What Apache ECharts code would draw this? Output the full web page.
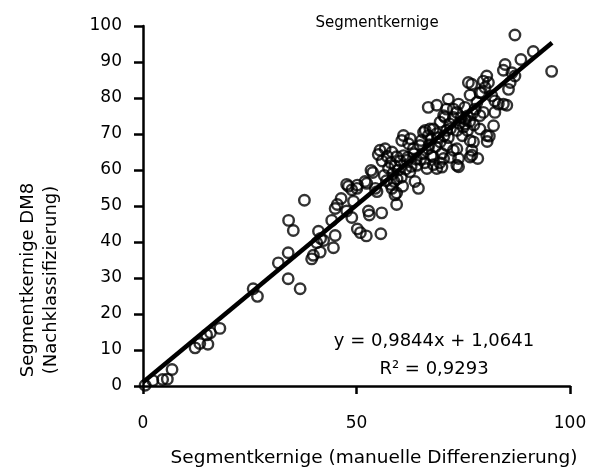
<!DOCTYPE html>
<html>
<head>
<meta charset="utf-8">
<script src="https://cdn.jsdelivr.net/npm/echarts@6/dist/echarts.min.js"></script>
<style>html,body{margin:0;padding:0;background:#fff;}#c{width:606px;height:473px;}</style>
</head>
<body>
<div id="c"></div>
<script>
// Scatter data: Segmentkernige manual (x) vs DM8 reclassification (y)
var points = [
[0.5,0.2],[2.3,1.5],[4.6,1.8],[5.7,1.9],[6.8,4.6],[12.2,10.6],[13.3,11.8],[15.2,11.6],[14.9,14.2],[15.8,14.8],[18.0,16.0],
[25.8,27.0],[26.8,24.9],[31.7,34.2],[34.0,37.0],[34.0,29.8],[36.8,27.0],[34.1,46.0],[35.2,43.2],[37.8,51.6],
[39.5,35.3],[39.9,36.3],[40.7,39.8],[41.1,43.0],[41.6,41.0],[42.3,40.4],[41.5,37.2],[44.6,38.4],[45.0,41.8],[44.2,46.0],
[45.0,49.3],[45.5,50.4],[46.4,52.1],[47.7,48.6],[48.9,46.8],[48.1,55.5],[47.7,56.0],[48.9,54.5],[50.1,54.9],[50.2,55.8],
[50.2,43.6],[50.9,42.6],[52.3,41.7],[52.8,48.6],[53.0,47.5],[55.9,48.1],[55.7,42.3],[52.0,56.8],[52.4,56.3],[53.4,59.9],
[53.8,59.3],[54.4,54.9],[54.8,54.0],[55.5,65.5],[55.1,64.3],[56.7,65.9],[58.3,65.0],[59.4,63.7],[58.8,56.8],[59.4,53.6],
[59.0,53.1],[58.3,54.9],[59.4,50.4],[60.6,68.2],[62.2,67.3],[62.6,68.7],[61.0,69.6],[63.3,65.9],[64.9,66.8],[61.8,62.7],
[64.1,61.3],[64.5,54.9],[63.7,56.8],[66.5,60.4],[68.8,60.4],[66.8,65.9],[68.0,63.6],[70.0,64.6],[70.4,63.2],[69.6,67.8],
[71.1,66.8],[72.7,65.5],[73.5,65.9],[73.9,63.2],[73.5,61.3],[73.9,60.9],[76.6,63.6],[77.0,65.5],[77.0,64.1],[76.6,68.2],
[77.4,67.8],[78.4,63.2],[80.6,67.9],[81.1,69.4],[80.5,69.6],[78.9,71.4],[82.1,72.3],[66.1,71.0],[66.8,69.6],[65.7,70.5],
[67.2,71.4],[68.0,71.4],[68.8,70.1],[71.1,71.0],[73.5,71.0],[75.0,71.9],[69.6,73.3],[70.4,75.1],[70.7,74.7],[72.7,74.6],
[73.5,76.0],[75.4,74.2],[71.1,76.9],[72.7,76.9],[73.9,78.3],[75.4,77.4],[66.8,77.4],[68.8,78.0],[71.5,79.7],[77.8,76.9],
[78.2,78.8],[78.9,75.1],[79.7,76.0],[82.4,76.0],[76.6,80.8],[78.9,81.5],[79.3,81.5],[76.2,84.3],[77.0,83.8],[79.7,84.7],
[80.1,82.9],[80.5,86.1],[80.9,84.3],[81.7,80.6],[82.4,79.2],[83.2,78.3],[84.4,78.3],[85.2,78.0],[84.8,89.3],[84.4,87.7],
[86.4,87.0],[87.1,86.1],[86.0,84.3],[85.6,82.4],[88.5,90.7],[91.4,92.9],[87.1,97.5],[95.7,87.4],[49.3,51.3],
[56.5,58.5],[57.5,60.5],[58.0,62.0],[58.5,59.0],[59.0,61.2],[59.8,60.0],[60.2,62.5],[60.5,58.0],[61.0,64.0],[61.5,60.2],
[62.0,63.5],[62.5,59.5],[57.0,57.0],[56.0,62.5],[57.2,63.8],[59.5,57.5],[60.8,55.5],[62.8,61.0],[63.5,64.5],[58.0,56.0],
[65.0,63.0],[65.5,64.5],[66.0,62.0],[67.0,67.0],[67.5,64.0],[68.5,66.5],[69.0,69.0],[69.5,62.0],[70.5,69.5],[71.5,69.0],
[72.0,71.5],[71.8,72.8],[67.5,68.5],[65.2,68.2],[64.0,63.0],[68.0,61.5],[70.0,60.8],[72.0,63.5],
[74.0,73.0],[74.5,74.5],[76.0,75.0],[76.5,73.5],[77.2,75.8],[74.8,69.5],[76.0,71.0],[75.5,72.8],[77.5,72.5]
];
var xValues = points.map(function(p){return p[0];});
var yValues = points.map(function(p){return p[1];});
var fitSlope = 0.9844;
var fitIntercept = 1.0641;
var fitXRange = [0, 95.8];
var xTicks = [0, 50, 100];
var yTicks = [0,10,20,30,40,50,60,70,80,90,100];
var titleText = 'Segmentkernige';
var xName = 'Segmentkernige (manuelle Differenzierung)';
var yName = 'Segmentkernige DM8\n(Nachklassifizierung)';
var eqText = 'y = 0,9844x + 1,0641';
var r2Text = 'R² = 0,9293';

var scatterData = xValues.map(function(x,i){return [x, yValues[i]];});
var fitData = fitXRange.map(function(x){return [x, fitSlope*x + fitIntercept];});
var FONT = 'DejaVu Sans';

var chart = echarts.init(document.getElementById('c'), null, {renderer:'canvas'});
chart.setOption({
  animation:false,
  backgroundColor:'#fff',
  textStyle:{fontFamily:FONT},
  title:{text:titleText, left:372, top:11, textAlign:'center',
    textStyle:{fontFamily:FONT, fontSize:15, fontWeight:'normal', color:'#000'}},
  grid:{left:143, right:36, top:26, bottom:83, containLabel:false},
  xAxis:{type:'value', min:xTicks[0], max:xTicks[xTicks.length-1], interval:50,
    name:xName, nameLocation:'middle', nameGap:63,
    nameTextStyle:{fontFamily:FONT, fontSize:18.5, color:'#000', padding:[0,0,0,35]},
    axisLine:{lineStyle:{color:'#000', width:2.5}},
    axisTick:{show:true, length:8, lineStyle:{color:'#000', width:2.5}},
    axisLabel:{margin:29, fontFamily:FONT, fontSize:17, color:'#000'},
    splitLine:{show:false}},
  yAxis:{type:'value', min:yTicks[0], max:yTicks[yTicks.length-1], interval:10,
    axisLine:{show:true, lineStyle:{color:'#000', width:2.5}},
    axisTick:{show:true, length:9, lineStyle:{color:'#000', width:2.5}},
    axisLabel:{margin:21, fontFamily:FONT, fontSize:17, color:'#000'},
    splitLine:{show:false}},
  graphic:[
    {type:'text', x:40, y:280, rotation:Math.PI/2,
      style:{text:yName, fontFamily:FONT, fontSize:18, fill:'#000', align:'center', verticalAlign:'middle', lineHeight:23}},
    {type:'text', x:434, y:341,
      style:{text:eqText, fontFamily:FONT, fontSize:18, fill:'#000', align:'center', verticalAlign:'middle'}},
    {type:'text', x:434, y:369,
      style:{text:r2Text, fontFamily:FONT, fontSize:18, fill:'#000', align:'center', verticalAlign:'middle'}}
  ],
  series:[
    {type:'scatter', data:scatterData, symbol:'circle', symbolSize:10.5,
      itemStyle:{color:'rgba(255,255,255,0)', borderColor:'#000', borderWidth:2.4}, z:2},
    {type:'line', data:fitData, symbol:'none', showSymbol:false,
      lineStyle:{color:'#000', width:4.5}, z:3}
  ]
});
</script>
</body>
</html>
